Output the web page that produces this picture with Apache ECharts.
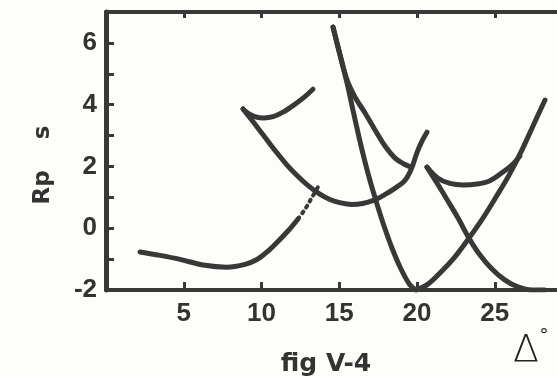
<!DOCTYPE html>
<html>
<head>
<meta charset="utf-8">
<script src="https://cdn.jsdelivr.net/npm/echarts@6/dist/echarts.min.js"></script>
<style>
html,body{margin:0;padding:0;background:#fdfdf9;}
#chart{width:557px;height:378px;}
</style>
</head>
<body>
<div id="chart"></div>
<script>
// ---- data (Δ in degrees, reduced time Rp in s) ----
const xTickLabels = [5, 10, 15, 20, 25];
const yTickLabels = [-2, 0, 2, 4, 6];

const lowBranch = [[2.19,-0.77],[3.47,-0.88],[4.76,-1.01],[6.24,-1.19],[7.78,-1.26],[8.94,-1.17],[9.65,-1.03],[10.23,-0.82],[10.74,-0.59],[11.70,-0.09],[12.35,0.30]];
const lowBranchDotted = [[12.35,0.30],[12.67,0.52],[12.93,0.72],[13.18,0.94],[13.63,1.33]];
const upperArc = [[8.81,3.86],[9.20,3.70],[9.65,3.60],[10.16,3.57],[10.74,3.61],[11.38,3.76],[12.03,3.97],[12.67,4.21],[13.31,4.50]];
const loopBranch = [[8.81,3.86],[9.5,3.42],[10.2,2.96],[10.9,2.50],[11.6,2.07],[12.3,1.70],[13.0,1.38],[13.7,1.12],[14.4,0.93],[15.1,0.82],[15.8,0.77],[16.5,0.80],[17.2,0.90],[17.9,1.08],[18.6,1.30],[19.2,1.53],[19.62,1.90],[20.0,2.45],[20.32,2.82],[20.64,3.11]];
const spikeRight = [[14.60,6.51],[15.05,5.61],[15.50,4.80],[16.01,4.25],[16.66,3.73],[17.30,3.18],[17.94,2.66],[18.59,2.27],[19.16,2.08],[19.61,1.98]];
const spikeLeft = [[14.60,6.51],[15.05,5.61],[15.50,4.70],[15.88,3.83],[16.27,2.95],[16.66,2.14],[17.04,1.43],[17.43,0.78],[17.88,0.07],[18.39,-0.64],[18.97,-1.32],[19.55,-1.84],[19.94,-2.0]];
const risingBranch = [[19.94,-2.0],[20.71,-1.81],[21.54,-1.42],[22.44,-0.93],[23.34,-0.32],[24.24,0.33],[25.08,1.01],[25.92,1.72],[26.69,2.47],[27.46,3.31],[28.23,4.15]];
const fallingBranch = [[20.64,1.98],[21.29,1.46],[21.93,0.93],[22.64,0.33],[23.34,-0.32],[24.05,-0.87],[24.82,-1.32],[25.66,-1.68],[26.49,-1.90],[27.40,-2.0],[28.2,-2.0]];
const cuspArc = [[20.64,1.98],[21.35,1.62],[22.12,1.45],[22.96,1.40],[23.86,1.43],[24.69,1.54],[25.53,1.82],[26.17,2.08],[26.62,2.34]];

const INK = '#383838';
const curve = (data, extra) => Object.assign({
  type: 'line', data: data, showSymbol: false, smooth: 0.35,
  xAxisIndex: 0, yAxisIndex: 0, silent: true,
  lineStyle: { color: INK, width: 5, cap: 'round', join: 'round' }
}, extra || {});

const chart = echarts.init(document.getElementById('chart'), null, { renderer: 'canvas' });
chart.setOption({
  animation: false,
  backgroundColor: '#fdfdf9',
  grid: { left: 106, top: 12, bottom: 88, right: -15.5, containLabel: false, outerBoundsMode: 'none' },
  xAxis: [{
    type: 'value', min: 0, max: 30, interval: 5, position: 'bottom',
    axisLine: { show: true, onZero: false, lineStyle: { color: INK, width: 4 } },
    axisTick: { show: true, inside: true, length: 8, lineStyle: { color: INK, width: 3 } },
    splitLine: { show: false },
    axisLabel: {
      margin: 11, color: '#333', fontFamily: 'Liberation Sans', fontWeight: 'bold', fontSize: 26,
      formatter: v => xTickLabels.indexOf(v) >= 0 ? String(v) : ''
    }
  }, {
    type: 'value', min: 0, max: 30, interval: 5, position: 'top',
    axisLine: { show: true, onZero: false, lineStyle: { color: INK, width: 4 } },
    axisTick: { show: true, inside: true, length: 6, lineStyle: { color: INK, width: 3 } },
    splitLine: { show: false }, axisLabel: { show: false }
  }],
  yAxis: [{
    type: 'value', min: -2, max: 7, interval: 1,
    axisLine: { show: true, onZero: false, lineStyle: { color: INK, width: 5 } },
    axisTick: { show: true, inside: true, length: 8, lineStyle: { color: INK, width: 3 } },
    splitLine: { show: false },
    axisLabel: {
      margin: 9, color: '#333', fontFamily: 'Liberation Sans', fontWeight: 'bold', fontSize: 26,
      formatter: v => yTickLabels.indexOf(v) >= 0 ? String(v) : ''
    }
  }],
  graphic: [
    { type: 'text', x: 43, y: 165, rotation: Math.PI / 2,
      style: { text: '{a|Rp}{g| }{a|s}', fill: '#333', textAlign: 'center', textVerticalAlign: 'middle',
        rich: {
          a: { fontFamily: 'DejaVu Sans', fontWeight: 'bold', fontSize: 23, fill: '#333' },
          g: { width: 31, fontSize: 23 }
        } } },
    { type: 'text', x: 326, y: 364,
      style: { text: 'fig V-4', fill: '#333', font: 'bold 25px "DejaVu Sans"', textAlign: 'center', textVerticalAlign: 'middle' } },
    { type: 'text', x: 526, y: 351,
      style: { text: 'Δ', fill: '#222', font: '200 38px "DejaVu Sans"', textAlign: 'center', textVerticalAlign: 'middle' } },
    { type: 'text', x: 544, y: 336,
      style: { text: '°', fill: '#222', font: '18px "DejaVu Sans"', textAlign: 'center', textVerticalAlign: 'middle' } }
  ],
  series: [
    curve(lowBranch),
    curve(lowBranchDotted, { lineStyle: { color: INK, width: 4, type: [2, 5], cap: 'round' } }),
    curve(upperArc),
    curve(loopBranch),
    curve(spikeRight),
    curve(spikeLeft),
    curve(risingBranch),
    curve(fallingBranch),
    curve(cuspArc)
  ]
});
</script>
</body>
</html>
